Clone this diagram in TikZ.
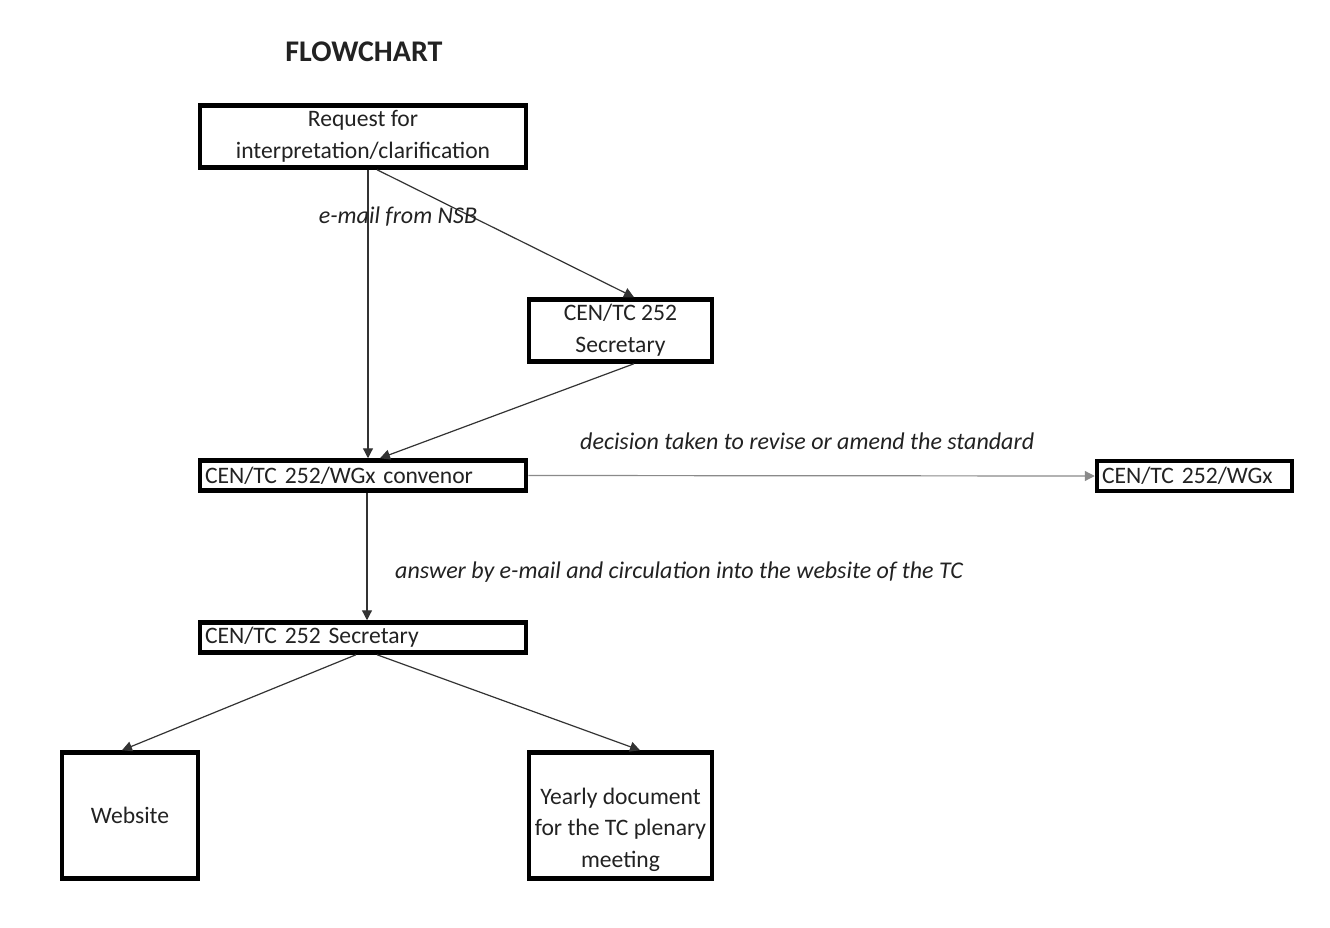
\documentclass[tikz,border=0pt]{standalone}
\usepackage{fontspec}
\setmainfont{Carlito}
\usetikzlibrary{arrows.meta,calc}
\definecolor{txt}{HTML}{222222}
\definecolor{conn}{HTML}{333333}
\definecolor{lightconn}{HTML}{8A8A8A}
\begin{document}
\begin{tikzpicture}[x=1pt,y=-1pt,
  every node/.style={font=\fontsize{23.6}{32}\selectfont,text=txt},
  box/.style={draw=black,line width=4.5pt,inner sep=0pt,anchor=center},
  lbox/.style={box,align=left,inner xsep=5pt},
  conn/.style={draw=conn,line width=1.2pt,-{Triangle[length=10pt,width=10pt]}},
  lbl/.style={font=\fontsize{24}{28}\selectfont\itshape,inner sep=0pt}]
\useasboundingbox[fill=white] (0,0) rectangle (1330,928);
\node[font=\fontsize{30}{34}\selectfont\bfseries] (title) at (364,52) {FLOWCHART};
\node[box,minimum width=326pt,minimum height=62pt,align=center] (req) at (363,136.5) {Request for\\interpretation/clarification};
\node[box,minimum width=183pt,minimum height=62pt,align=center] (sec1) at (620.5,330.5) {CEN/TC 252\\Secretary};
\node[lbox,text width=316pt,minimum height=30pt] (conv) at (363,475.5) {CEN/TC 252/WGx convenor};
\node[lbox,text width=185pt,minimum height=30pt] (wgx) at (1194.5,476) {CEN/TC 252/WGx};
\node[lbox,text width=316pt,minimum height=30pt] (sec2) at (363,637.5) {CEN/TC 252 Secretary};
\node[box,minimum width=136pt,minimum height=126pt,align=center] (web) at (130,815.5) {Website};
\node[box,minimum width=183pt,minimum height=126pt] (year) at (620.5,815.5) {\parbox{183pt}{\vspace*{28pt}\centering\fontsize{23.6}{31.5}\selectfont Yearly document\\for the TC plenary\\meeting}};
% connectors
\draw[conn] ([xshift=5pt]req.south) -- ([xshift=5pt]conv.north);
\draw[conn] ([xshift=14pt]req.south) -- ([xshift=13.5pt]sec1.north);
\draw[conn] ([xshift=13.5pt]sec1.south) -- ([xshift=17pt]conv.north);
\draw[conn,draw=lightconn] (conv.east) -- (wgx.west);
\draw[conn] ([xshift=4pt]conv.south) -- ([xshift=4pt]sec2.north);
\draw[conn] ([xshift=-7pt]sec2.south) -- ([xshift=-8pt]web.north);
\draw[conn] ([xshift=14pt]sec2.south) -- ([xshift=19.5pt]year.north);
% labels
\node[lbl] (l1) at (398,217) {e-mail from NSB};
\node[lbl,anchor=west] (l2) at (580,441) {decision taken to revise or amend the standard};
\node[lbl,anchor=west] (l3) at (395,572) {answer by e-mail and circulation into the website of the TC};
\end{tikzpicture}
\end{document}
